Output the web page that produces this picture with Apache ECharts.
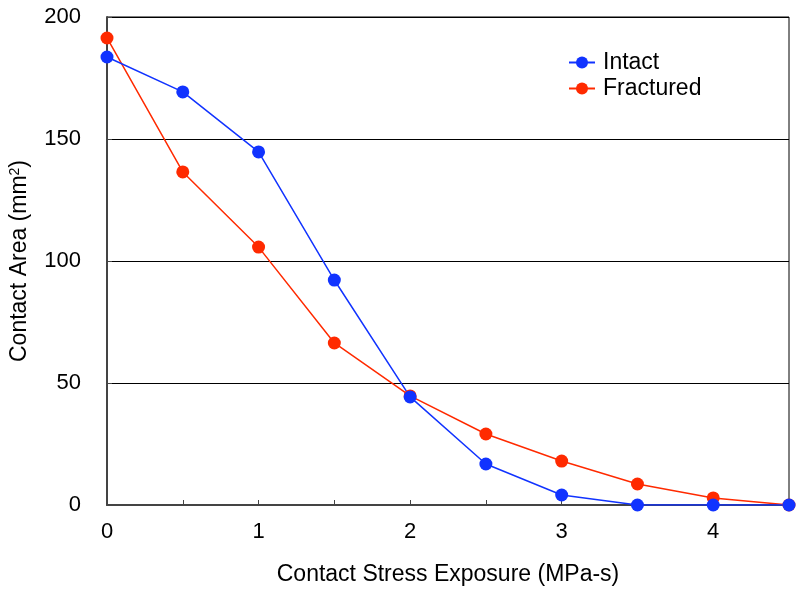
<!DOCTYPE html>
<html><head><meta charset="utf-8">
<script src="https://cdn.jsdelivr.net/npm/echarts@6/dist/echarts.min.js"></script>
<style>html,body{margin:0;padding:0;background:#fff}#c{width:800px;height:591px}</style>
</head><body><div id="c"></div>
<script>
const xValues = [0, 0.5, 1, 1.5, 2, 2.5, 3, 3.5, 4, 4.5];
const intact = [183.6, 169.3, 144.7, 92.2, 44.3, 16.8, 4.1, 0, 0, 0];
const fractured = [191.4, 136.5, 105.7, 66.4, 44.7, 29.1, 18.0, 8.6, 2.9, 0];
const yTicks = [0, 50, 100, 150, 200];

const font = 'Liberation Sans, Arial, sans-serif';
const chart = echarts.init(document.getElementById('c'));
chart.setOption({
  animation: false,
  grid: { left: 107, right: 11, top: 17, bottom: 86, show: true, borderColor: '#000', borderWidth: 1,
    containLabel: false, outerBoundsMode: 'none' },
  legend: {
    data: ['Intact', 'Fractured'],
    orient: 'vertical', left: 563, top: 46, itemGap: 3, itemWidth: 26, itemHeight: 15,
    textStyle: { fontFamily: font, fontSize: 23, color: '#000', padding: [0, 0, 0, 3] }
  },
  xAxis: {
    type: 'value', min: 0, max: 4.5, interval: 0.5,
    name: 'Contact Stress Exposure (MPa-s)', nameLocation: 'middle', nameGap: 58,
    nameTextStyle: { fontFamily: font, fontSize: 23, color: '#000' },
    axisLine: { lineStyle: { color: '#444', width: 2 } },
    axisTick: { inside: true, length: 5, lineStyle: { color: '#444' } },
    axisLabel: { fontFamily: font, fontSize: 22, color: '#000', margin: 16,
      formatter: v => (Math.abs(v - Math.round(v)) < 1e-9 ? String(Math.round(v)) : '') },
    splitLine: { show: false }
  },
  yAxis: {
    type: 'value', min: yTicks[0], max: yTicks[yTicks.length - 1], interval: 50,
    name: 'Contact Area (mm{sup|2})', nameLocation: 'middle', nameGap: 76,
    nameTextStyle: { fontFamily: font, fontSize: 23, color: '#000',
      rich: { sup: { fontFamily: font, fontSize: 14, color: '#000', verticalAlign: 'top', padding: [0, 0, 9, 0] } } },
    axisLine: { lineStyle: { color: '#444', width: 2 } },
    axisTick: { inside: true, length: 5, lineStyle: { color: '#444' } },
    axisLabel: { fontFamily: font, fontSize: 22, color: '#000', margin: 26 },
    splitLine: { show: true, lineStyle: { color: '#000', width: 1 } }
  },
  series: [
    { name: 'Fractured', type: 'line', data: xValues.map((x, i) => [x, fractured[i]]),
      symbol: 'circle', symbolSize: 13, color: '#ff2a00', lineStyle: { width: 1.5 } },
    { name: 'Intact', type: 'line', data: xValues.map((x, i) => [x, intact[i]]),
      symbol: 'circle', symbolSize: 13, color: '#1133ff', lineStyle: { width: 1.5 } }
  ]
});
</script></body></html>
